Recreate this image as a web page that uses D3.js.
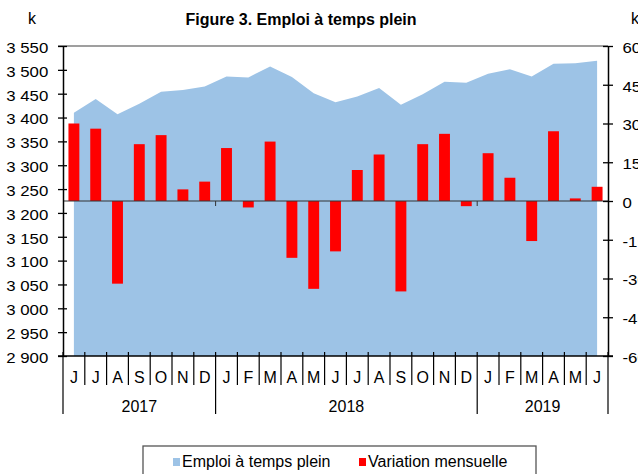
<!DOCTYPE html>
<html>
<head>
<meta charset="utf-8">
<script src="https://cdn.jsdelivr.net/npm/d3@7"></script>
<style>
  body { margin: 0; background: #fff; }
  text { font-family: "Liberation Sans", Arial, sans-serif; fill: #000; }
</style>
</head>
<body>
<div id="chart"></div>
<script>
// months Jun 2017 -> Jun 2019
var months = ["J","J","A","S","O","N","D","J","F","M","A","M","J","J","A","S","O","N","D","J","F","M","A","M","J"];
var years = ["2017", "2018", "2019"];
var yearCounts = [7, 12, 6];

// emploi a temps plein (milliers)
var emploi = [3410, 3439, 3407, 3429, 3454, 3458, 3465, 3486, 3484, 3507, 3485, 3451, 3432,
              3444, 3462, 3427, 3449, 3475, 3473, 3492, 3501, 3486, 3513, 3514, 3519];
// variation mensuelle (milliers)
var variation = [30, 28, -32, 22, 25.5, 4.5, 7.5, 20.5, -2.5, 23, -22, -34, -19.5,
                 12, 18, -35, 22, 26, -2, 18.5, 9, -15.5, 27, 1, 5.5];

var leftTicks = d3.range(2900, 3551, 50);
var rightTicks = d3.range(-60, 61, 15);

var W = 638, H = 474;
var x0 = 63, x1 = 608, yTop = 46, yBot = 356;

var svg = d3.select("#chart").append("svg")
  .attr("width", W).attr("height", H);

var x = d3.scaleBand().domain(d3.range(months.length)).range([x0, x1]).padding(0);
var yL = d3.scaleLinear().domain([2900, 3550]).range([yBot, yTop]);
var yR = d3.scaleLinear().domain([-60, 60]).range([yBot, yTop]);

// area
var area = d3.area()
  .x(function(d, i) { return x(i) + x.bandwidth() / 2; })
  .y0(yL(2900))
  .y1(function(d) { return yL(d); });

svg.append("path")
  .datum(emploi)
  .attr("d", area)
  .attr("fill", "#9dc3e6");

// top border
svg.append("line")
  .attr("x1", x0 - 5).attr("x2", x1).attr("y1", yTop).attr("y2", yTop)
  .attr("stroke", "#7f7f7f").attr("stroke-width", 1.5);

// bars
var bw = x.bandwidth() * 0.5;
svg.selectAll("rect.bar").data(variation).enter().append("rect")
  .attr("class", "bar")
  .attr("x", function(d, i) { return x(i) + (x.bandwidth() - bw) / 2; })
  .attr("y", function(d) { return yR(Math.max(0, d)); })
  .attr("width", bw)
  .attr("height", function(d) { return Math.abs(yR(d) - yR(0)); })
  .attr("fill", "#ff0000");

// zero line
svg.append("line")
  .attr("x1", x0).attr("x2", x1).attr("y1", yR(0)).attr("y2", yR(0))
  .attr("stroke", "#333").attr("stroke-width", 1.2);

// year boundaries
var bounds = [0];
yearCounts.forEach(function(c, i) { bounds.push(bounds[i] + c); });
var bx = function(k) { return k < months.length ? x(k) : x1; };

svg.selectAll("line.ztick").data(bounds.slice(1, -1)).enter().append("line")
  .attr("x1", function(d) { return bx(d); }).attr("x2", function(d) { return bx(d); })
  .attr("y1", yR(0)).attr("y2", yR(0) + 5)
  .attr("stroke", "#333");

// left axis
var gL = svg.append("g").attr("transform", "translate(" + x0 + ",0)")
  .call(d3.axisLeft(yL).tickValues(leftTicks).tickFormat("").tickSizeInner(5).tickSizeOuter(0));
gL.select(".domain").attr("stroke", "#000").attr("stroke-width", 1.5);
gL.selectAll(".tick line").attr("x1", 4).attr("stroke", "#000").attr("stroke-width", 1.3);
gL.selectAll(".tick text").remove();
gL.selectAll(".tick").append("text")
  .attr("transform", "translate(-14.7,0) scale(1.2,1)")
  .attr("text-anchor", "end").attr("dy", "0.45em")
  .style("font-size", "14px")
  .text(function(d) { var s = String(d); return s.slice(0, 1) + "\u00a0" + s.slice(1); });

// right axis
var gR = svg.append("g").attr("transform", "translate(" + x1 + ",0)")
  .call(d3.axisRight(yR).tickValues(rightTicks).tickFormat("").tickSizeInner(5).tickSizeOuter(0));
gR.select(".domain").attr("stroke", "#000").attr("stroke-width", 1.5);
gR.selectAll(".tick line").attr("x1", -5).attr("stroke", "#000").attr("stroke-width", 1.3);
gR.selectAll(".tick text").remove();
gR.selectAll(".tick").append("text")
  .attr("transform", "translate(14.5,0) scale(1.2,1)")
  .attr("dy", "0.45em")
  .style("font-size", "14px")
  .text(function(d) { return String(d); });

// bottom axis
svg.append("line")
  .attr("x1", x0 - 5).attr("x2", x1 + 5).attr("y1", yBot).attr("y2", yBot)
  .attr("stroke", "#000").attr("stroke-width", 1.5);

svg.selectAll("line.mtick").data(d3.range(months.length + 1)).enter().append("line")
  .attr("x1", function(d) { return bx(d); }).attr("x2", function(d) { return bx(d); })
  .attr("y1", yBot - 4)
  .attr("y2", function(d) { return bounds.indexOf(d) >= 0 ? 414 : 385; })
  .attr("stroke", "#000").attr("stroke-width", 1.2);

svg.selectAll("text.month").data(months).enter().append("text")
  .attr("x", function(d, i) { return x(i) + x.bandwidth() / 2; })
  .attr("y", 383)
  .attr("text-anchor", "middle")
  .style("font-size", "16px")
  .text(function(d) { return d; });

svg.selectAll("text.year").data(years).enter().append("text")
  .attr("x", function(d, i) { return (bx(bounds[i]) + bx(bounds[i + 1])) / 2; })
  .attr("y", 412)
  .attr("text-anchor", "middle")
  .style("font-size", "16px")
  .text(function(d) { return d; });

// title and units
svg.append("text")
  .attr("x", 301).attr("y", 25)
  .attr("text-anchor", "middle")
  .style("font-size", "16px").style("font-weight", "bold")
  .text("Figure 3. Emploi à temps plein");

svg.append("text").attr("x", 32).attr("y", 24).attr("text-anchor", "middle")
  .style("font-size", "16px").text("k");
svg.append("text").attr("x", 631).attr("y", 24)
  .style("font-size", "16px").text("k");

// legend
svg.append("rect")
  .attr("x", 143).attr("y", 446).attr("width", 393).attr("height", 40)
  .attr("fill", "#fff").attr("stroke", "#555").attr("stroke-width", 1.3);

var legend = [
  { label: "Emploi à temps plein", color: "#9dc3e6", x: 173 },
  { label: "Variation mensuelle", color: "#ff0000", x: 359 }
];
legend.forEach(function(l) {
  svg.append("rect").attr("x", l.x).attr("y", 458).attr("width", 7).attr("height", 8).attr("fill", l.color);
  svg.append("text").attr("x", l.x + 9).attr("y", 467)
    .style("font-size", "16px").text(l.label);
});
</script>
</body>
</html>
